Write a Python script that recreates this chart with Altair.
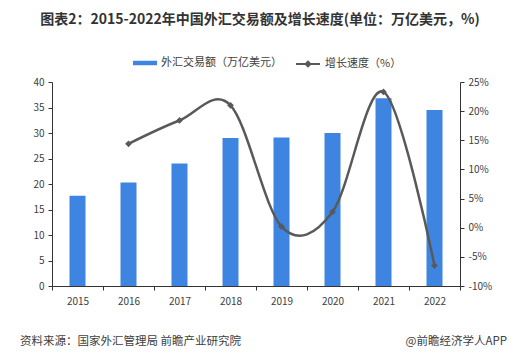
import altair as alt
import pandas as pd

years = ["2015", "2016", "2017", "2018", "2019", "2020", "2021", "2022"]
volume = [17.7, 20.3, 24.0, 29.0, 29.1, 30.0, 36.8, 34.5]
growth = [None, 14.4, 18.4, 21.0, 0.2, 2.7, 23.3, -6.5]

bar_name = "外汇交易额（万亿美元）"
line_name = "增长速度（%）"
title_text = "图表2：2015-2022年中国外汇交易额及增长速度(单位：万亿美元，%)"
source_text = "资料来源：国家外汇管理局 前瞻产业研究院"
brand_text = "@前瞻经济学人APP"

FONT = "Noto Sans CJK SC"
BLUE = "#3D85E0"
GRAY = "#595959"
TXT = "#404040"

bars_df = pd.DataFrame({"year": years, "volume": volume, "s": bar_name})
line_df = pd.DataFrame({"year": years[1:], "growth": growth[1:], "s": line_name})

x_enc = alt.X("year:N", sort=years, title=None,
              scale=alt.Scale(paddingInner=0, paddingOuter=0),
              axis=alt.Axis(labelAngle=0, tickBand="extent", labelFontSize=10,
                            labelColor=TXT, labelFont=FONT, domainColor="#333333",
                            tickColor="#333333", tickSize=4, labelPadding=6))

bars = alt.Chart(bars_df).mark_bar(size=16).encode(
    x=x_enc,
    y=alt.Y("volume:Q", title=None, scale=alt.Scale(domain=[0, 40]),
            axis=alt.Axis(values=list(range(0, 45, 5)), grid=False, labelFontSize=10,
                          labelColor=TXT, labelFont=FONT, domainColor="#333333",
                          tickColor="#333333", tickSize=4, labelPadding=4,
                          labelOverlap=False)),
    color=alt.Color("s:N", title=None, scale=alt.Scale(range=[BLUE]),
                    legend=alt.Legend(orient="none", legendX=85, legendY=-27,
                                      symbolType="M-1.5,-0.28L1.5,-0.28L1.5,0.28L-1.5,0.28Z",
                                      symbolSize=256, labelOffset=8, labelFontSize=11,
                                      labelFont=FONT, labelColor=TXT, symbolStrokeWidth=0)),
)

y2 = alt.Y("growth:Q", title=None, scale=alt.Scale(domain=[-10, 25]),
           axis=alt.Axis(orient="right", values=list(range(-10, 30, 5)), grid=False,
                         labelExpr="datum.value + '%'", labelFontSize=10,
                         labelColor=TXT, labelFont=FONT, domainColor="#333333",
                         tickColor="#333333", tickSize=4, labelPadding=4,
                         labelOverlap=False))

line_color = alt.Color("s:N", title=None, scale=alt.Scale(range=[GRAY]),
                       legend=alt.Legend(orient="none", legendX=247, legendY=-27,
                                         symbolType="M-1.5,0L1.5,0M0,-0.3L0.3,0L0,0.3L-0.3,0Z",
                                         symbolSize=256, labelOffset=8, labelFontSize=11,
                                         labelFont=FONT, labelColor=TXT,
                                         symbolStrokeWidth=2, symbolFillColor=GRAY))

line = alt.Chart(line_df).mark_line(interpolate="cardinal", strokeWidth=2.5).encode(
    x=alt.X("year:N", sort=years), y=y2, color=line_color)
pts = alt.Chart(line_df).mark_point(shape="diamond", filled=True, size=45, opacity=1).encode(
    x=alt.X("year:N", sort=years), y=y2, color=line_color)

line_layer = alt.layer(line, pts)

ttl = alt.Chart(pd.DataFrame({"t": [title_text]})).mark_text(
    align="center", baseline="middle", fontSize=14, fontWeight="bold", font=FONT, color="#333333"
).encode(text="t:N", x=alt.value(208), y=alt.value(-62))
src = alt.Chart(pd.DataFrame({"t": [source_text]})).mark_text(
    align="left", baseline="middle", fontSize=11.5, font=FONT, color=TXT
).encode(text="t:N", x=alt.value(-32), y=alt.value(260))
brand = alt.Chart(pd.DataFrame({"t": [brand_text]})).mark_text(
    align="right", baseline="middle", fontSize=11.5, font=FONT, color=TXT
).encode(text="t:N", x=alt.value(455), y=alt.value(260))

chart = alt.layer(bars, line_layer, ttl, src, brand).resolve_scale(
    y="independent", color="independent"
).properties(
    width=408, height=204,
    autosize=alt.AutoSizeParams(type="none"),
    padding={"left": 44, "top": 74, "right": 59, "bottom": 64},
).configure_view(stroke=None)

chart.save("out.html", embed_options={"renderer": "svg", "actions": False})
